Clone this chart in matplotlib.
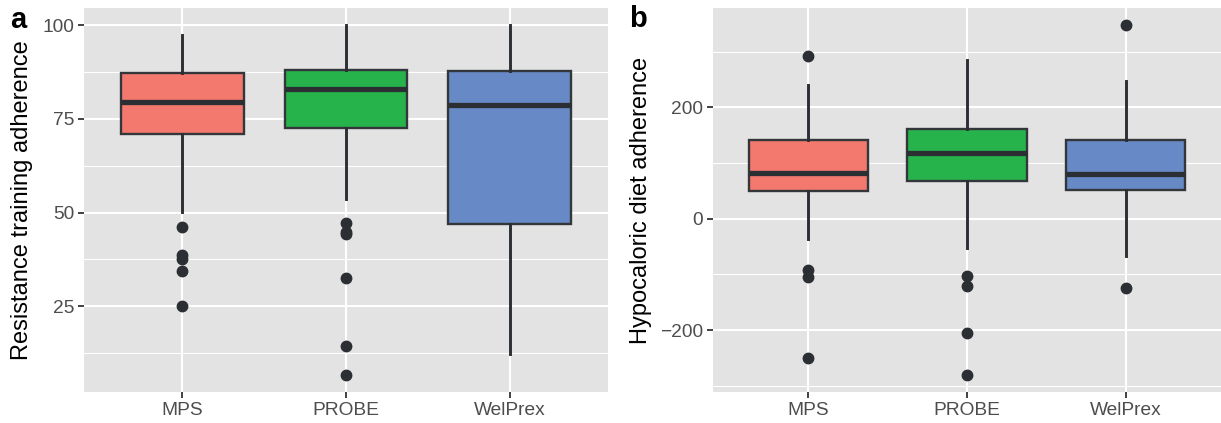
import matplotlib
matplotlib.use("Agg")
import matplotlib.pyplot as plt
from matplotlib.ticker import FixedLocator

plt.rcParams['font.family'] = ['Liberation Sans', 'DejaVu Sans']

groups = ["MPS", "PROBE", "WelPrex"]
colors = ["#F3786E", "#27B34B", "#6789C6"]

# Panel a: Resistance training adherence
a_whislo = [50.1, 53.6, 12.3]
a_q1 = [70.9, 72.5, 47.0]
a_med = [79.6, 82.9, 78.8]
a_q3 = [87.3, 88.0, 87.7]
a_whishi = [97.4, 100.0, 100.0]
a_fliers = [[46.2, 38.6, 37.5, 34.3, 25.0],
            [47.3, 44.8, 44.3, 32.4, 14.3, 6.7],
            []]
a_ticks = [25, 50, 75, 100]
a_minor = [12.5, 37.5, 62.5, 87.5]

# Panel b: Hypocaloric diet adherence
b_whislo = [-36.0, -53.4, -67.2]
b_q1 = [50.4, 67.2, 51.0]
b_med = [82.8, 118.1, 81.0]
b_q3 = [141.5, 161.9, 141.5]
b_whishi = [239.9, 284.3, 247.7]
b_fliers = [[292.7, -92.4, -105.5, -250.7],
            [-103.7, -120.5, -205.1, -280.0],
            [347.2, -125.3]]
b_ticks = [-200, 0, 200]
b_minor = [-300, -100, 100, 300]

fig = plt.figure(figsize=(12.21, 4.23), dpi=100)
axa = fig.add_axes([84/1221, 31/423, (608-84)/1221, 384/423])
axb = fig.add_axes([713/1221, 31/423, (1221-713)/1221, 384/423])

def draw(ax, wl, q1, med, q3, wh, fl, ylabel, ticks, minor, labx):
    stats = []
    for i, g in enumerate(groups):
        stats.append(dict(label=g, whislo=wl[i], q1=q1[i], med=med[i],
                          q3=q3[i], whishi=wh[i], fliers=fl[i]))
    ax.set_facecolor("#E3E3E3")
    bp = ax.bxp(stats, positions=[1, 2, 3], widths=0.75, patch_artist=True,
                showcaps=False, zorder=3,
                boxprops=dict(edgecolor="#33363A", linewidth=1.7),
                whiskerprops=dict(color="#2B2E33", linewidth=2.1),
                medianprops=dict(color="#2B2E33", linewidth=3.8, solid_capstyle='butt'),
                flierprops=dict(marker='o', markerfacecolor="#2B2E33",
                                markeredgecolor="#2B2E33", markersize=7.5))
    for p, c in zip(bp['boxes'], colors):
        p.set_facecolor(c)
    allv = wl + wh + [v for f in fl for v in f]
    lo, hi = min(allv), max(allv)
    pad = (hi - lo) * 0.05
    ax.set_ylim(lo - pad, hi + pad)
    ax.set_xlim(0.4, 3.6)
    ax.set_yticks(ticks)
    ax.yaxis.set_minor_locator(FixedLocator(minor))
    ax.grid(True, which='major', color='white', linewidth=1.5, zorder=0)
    ax.grid(True, which='minor', axis='y', color='white', linewidth=0.8, zorder=0)
    ax.set_axisbelow(True)
    for s in ax.spines.values():
        s.set_visible(False)
    ax.tick_params(which='major', length=4, width=1.3, color='#333333',
                   labelsize=13.8, labelcolor='#4D4D4D', pad=3)
    ax.tick_params(which='minor', length=0)
    ax.set_ylabel(ylabel, fontsize=17, color='black')
    x0 = ax.get_position().x0 * 1221
    w = ax.get_position().width * 1221
    ax.yaxis.set_label_coords((labx - x0) / w, 0.5)

draw(axa, a_whislo, a_q1, a_med, a_q3, a_whishi, a_fliers,
     "Resistance training adherence", a_ticks, a_minor, 33)
draw(axb, b_whislo, b_q1, b_med, b_q3, b_whishi, b_fliers,
     "Hypocaloric diet adherence", b_ticks, b_minor, 652)

fig.text(10/1221, 1 - 28/423, "a", fontsize=21, fontweight='bold', va='baseline', ha='left')
fig.text(629/1221, 1 - 27/423, "b", fontsize=21, fontweight='bold', va='baseline', ha='left')

fig.savefig("out.png", dpi=100)
